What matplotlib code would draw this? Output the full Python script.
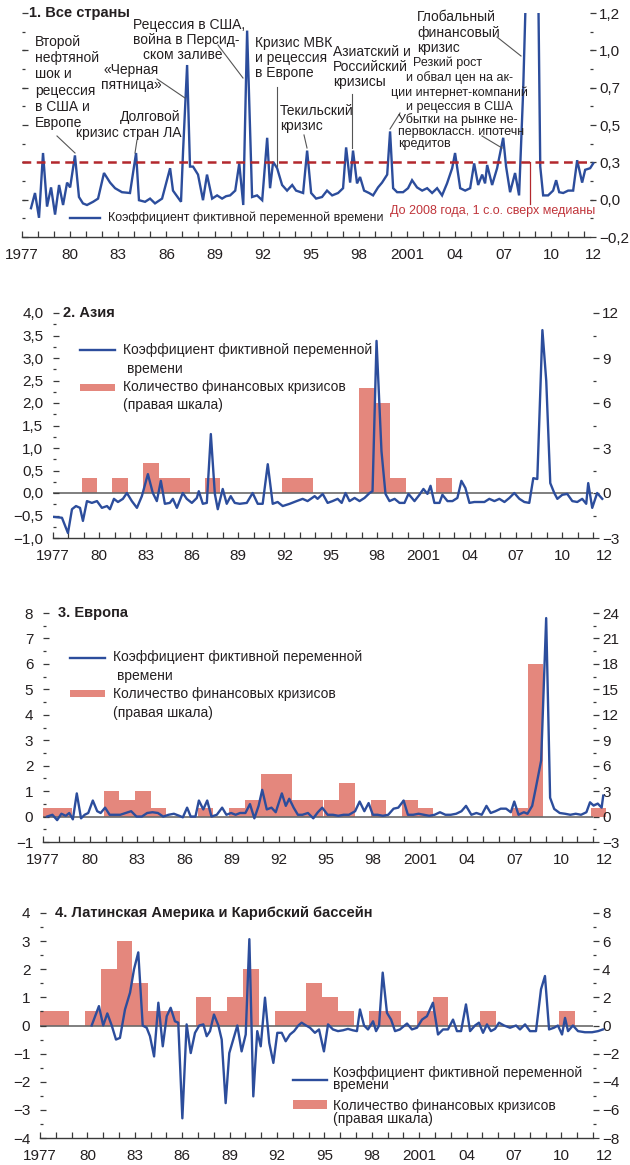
import matplotlib.pyplot as plt
import matplotlib.transforms as mtransforms
from matplotlib.lines import Line2D
from matplotlib.patches import Rectangle
import numpy as np

plt.rcParams['font.family'] = ['Liberation Sans', 'DejaVu Sans']

# ---------------- data ----------------
year_ticks = [1977, 1980, 1983, 1986, 1989, 1992, 1995, 1998, 2001, 2004, 2007, 2010]
year_labels = ['1977', '80', '83', '86', '89', '92', '95', '98', '2001', '04', '07', '10']

# 1. All countries: time dummy coefficient
all_years = [1977.56, 1977.81, 1978.06, 1978.31, 1978.56, 1978.81, 1979.06, 1979.31, 1979.56, 1979.81,
             1980.0, 1980.3, 1980.55, 1980.8, 1981.05, 1981.43, 1981.74, 1982.11, 1982.49, 1982.8,
             1983.23, 1983.73, 1984.11, 1984.29, 1984.67, 1984.98, 1985.29, 1985.73, 1986.23, 1986.41,
             1986.91, 1987.04, 1987.29, 1987.47, 1987.66, 1987.97, 1988.28, 1988.53, 1988.85, 1989.16,
             1989.47, 1989.72, 1989.97, 1990.29, 1990.54, 1990.79, 1991.03, 1991.34, 1991.65, 1991.97,
             1992.28, 1992.46, 1992.65, 1992.9, 1993.21, 1993.52, 1993.84, 1994.08, 1994.52, 1994.77,
             1995.02, 1995.33, 1995.7, 1996.01, 1996.33, 1996.7, 1997.01, 1997.2, 1997.45, 1997.63,
             1997.88, 1998.07, 1998.32, 1998.63, 1998.88, 1999.19, 1999.44, 1999.76, 1999.94, 2000.13,
             2000.38, 2000.75, 2001.06, 2001.31, 2001.62, 2001.94, 2002.25, 2002.56, 2002.87, 2003.18,
             2003.49, 2003.81, 2003.99, 2004.31, 2004.62, 2004.93, 2005.18, 2005.43, 2005.68, 2005.86,
             2005.99, 2006.3, 2006.61, 2006.99, 2007.17, 2007.42, 2007.73, 2007.98, 2008.23, 2008.48,
             2008.73, 2008.98, 2009.17, 2009.3, 2009.48, 2009.79, 2010.1, 2010.29, 2010.48, 2010.73,
             2011.04, 2011.35, 2011.6, 2011.91, 2012.1, 2012.41, 2012.6]
all_vals = [-0.02, 0.075, -0.08, 0.325, -0.01, 0.11, -0.06, 0.125, 0.0, 0.14,
            0.11, 0.31, 0.05, 0.01, 0.0, 0.02, 0.04, 0.2, 0.14, 0.105,
            0.08, 0.075, 0.325, 0.03, 0.02, 0.04, 0.01, 0.04, 0.23, 0.09,
            0.02, 0.34, 0.875, 0.24, 0.24, 0.19, 0.03, 0.19, 0.04, 0.06,
            0.04, 0.055, 0.06, 0.09, 0.26, 0.0, 1.09, 0.05, 0.06, 0.03,
            0.42, 0.105, 0.27, 0.23, 0.125, 0.09, 0.125, 0.09, 0.075, 0.34,
            0.075, 0.04, 0.05, 0.09, 0.06, 0.075, 0.105, 0.36, 0.14, 0.34,
            0.135, 0.175, 0.09, 0.075, 0.06, 0.11, 0.14, 0.19, 0.46, 0.105,
            0.08, 0.08, 0.105, 0.155, 0.11, 0.09, 0.105, 0.075, 0.105, 0.06,
            0.135, 0.23, 0.325, 0.105, 0.09, 0.105, 0.26, 0.125, 0.19, 0.135,
            0.25, 0.125, 0.23, 0.42, 0.24, 0.08, 0.2, 0.06, 0.7, 1.6,
            2.5, 2.2, 1.4, 0.24, 0.06, 0.06, 0.09, 0.155, 0.08, 0.075,
            0.09, 0.09, 0.28, 0.14, 0.22, 0.23, 0.26]
all_ticks = [-0.2, 0.0333, 0.2667, 0.5, 0.7333, 0.9667, 1.2]
threshold = 0.2667

# 2. Asia
asia_years = [1977.0, 1977.58, 1977.97, 1978.23, 1978.49, 1978.75, 1978.94, 1979.2, 1979.52, 1979.85,
              1980.17, 1980.5, 1980.69, 1980.95, 1981.21, 1981.53, 1981.79, 1982.11, 1982.44, 1982.76,
              1983.15, 1983.47, 1983.73, 1983.99, 1984.25, 1984.57, 1984.77, 1985.03, 1985.41, 1985.67,
              1986.0, 1986.32, 1986.45, 1986.71, 1986.97, 1987.23, 1987.49, 1987.68, 1988.0, 1988.26,
              1988.52, 1988.78, 1989.1, 1989.56, 1989.94, 1990.27, 1990.59, 1990.92, 1991.24, 1991.56,
              1991.89, 1992.34, 1992.79, 1993.18, 1993.5, 1993.96, 1994.15, 1994.48, 1994.8, 1995.12,
              1995.45, 1995.71, 1995.96, 1996.22, 1996.55, 1996.87, 1997.19, 1997.52, 1997.71, 1997.97,
              1998.29, 1998.55, 1998.81, 1999.14, 1999.46, 1999.78, 2000.04, 2000.43, 2000.75, 2001.01,
              2001.27, 2001.47, 2001.72, 2002.05, 2002.24, 2002.57, 2002.89, 2003.21, 2003.47, 2003.73,
              2003.99, 2004.31, 2004.64, 2004.96, 2005.28, 2005.61, 2005.93, 2006.26, 2006.58, 2006.9,
              2007.23, 2007.55, 2007.87, 2008.13, 2008.39, 2008.72, 2008.97, 2009.23, 2009.49, 2009.69,
              2010.01, 2010.33, 2010.66, 2010.98, 2011.3, 2011.56, 2011.69, 2011.95, 2012.27, 2012.6]
asia_vals = [-0.53, -0.55, -0.89, -0.36, -0.29, -0.33, -0.62, -0.18, -0.22, -0.18,
             -0.33, -0.29, -0.36, -0.13, -0.2, -0.13, 0.0, -0.18, -0.33, -0.07,
             0.42, 0.0, -0.18, 0.27, -0.24, -0.22, -0.13, -0.33, 0.0, -0.13,
             -0.22, -0.11, 0.04, -0.24, -0.22, 1.31, -0.02, -0.36, 0.09, -0.24,
             -0.07, -0.22, -0.24, -0.22, 0.0, -0.24, -0.24, 0.64, -0.24, -0.2,
             -0.29, -0.24, -0.18, -0.13, -0.18, -0.07, -0.13, -0.02, -0.22, -0.18,
             -0.13, -0.22, 0.0, -0.18, -0.11, -0.18, -0.11, 0.0, 0.04, 3.38,
             0.93, -0.02, -0.18, -0.13, -0.22, -0.22, -0.02, -0.18, -0.04, 0.09,
             -0.02, 0.16, -0.22, -0.22, -0.04, -0.18, -0.18, -0.11, 0.27, 0.11,
             -0.22, -0.2, -0.2, -0.2, -0.13, -0.18, -0.13, -0.2, -0.11, 0.0,
             -0.13, -0.2, -0.22, 0.33, 0.31, 3.62, 2.49, 0.22, 0.0, -0.13,
             -0.04, -0.02, -0.18, -0.2, -0.13, -0.24, 0.22, -0.33, 0.0, -0.13]
asia_bar_years = [1979, 1981, 1983, 1984, 1985, 1987, 1992, 1993, 1997, 1998, 1999, 2002]
asia_bar_counts = [1, 1, 2, 1, 1, 1, 1, 1, 7, 6, 1, 1]

# 3. Europe
eu_years = [1977.26, 1977.6, 1977.9, 1978.17, 1978.45, 1978.67, 1978.9, 1979.15, 1979.42, 1979.65,
            1979.88, 1980.17, 1980.45, 1980.67, 1980.95, 1981.24, 1981.58, 1981.92, 1982.26, 1982.61,
            1982.95, 1983.29, 1983.63, 1983.97, 1984.31, 1984.65, 1984.99, 1985.33, 1985.67, 1985.9,
            1986.17, 1986.4, 1986.7, 1986.92, 1987.2, 1987.45, 1987.72, 1988.06, 1988.4, 1988.67,
            1988.97, 1989.26, 1989.54, 1989.88, 1990.17, 1990.45, 1990.72, 1990.95, 1991.24, 1991.54,
            1991.81, 1992.2, 1992.45, 1992.67, 1992.95, 1993.22, 1993.51, 1993.86, 1994.2, 1994.49,
            1994.77, 1995.11, 1995.45, 1995.79, 1996.13, 1996.47, 1996.86, 1997.15, 1997.45, 1997.72,
            1997.99, 1998.29, 1998.63, 1998.97, 1999.31, 1999.61, 1999.95, 2000.22, 2000.56, 2000.9,
            2001.24, 2001.58, 2001.92, 2002.26, 2002.61, 2002.95, 2003.29, 2003.63, 2003.92, 2004.26,
            2004.58, 2004.92, 2005.22, 2005.49, 2005.79, 2006.13, 2006.47, 2006.77, 2006.99, 2007.26,
            2007.6, 2007.83, 2008.13, 2008.36, 2008.7, 2009.02, 2009.27, 2009.53, 2009.88, 2010.22,
            2010.56, 2010.9, 2011.24, 2011.58, 2011.81, 2012.04, 2012.3, 2012.55, 2012.65]
eu_vals = [0.0, 0.07, -0.14, 0.11, 0.03, 0.14, -0.11, 0.91, -0.07, 0.07,
           0.14, 0.63, 0.21, 0.14, 0.35, 0.07, 0.07, 0.07, 0.14, 0.21,
           0.0, 0.0, 0.14, 0.17, 0.14, 0.0, 0.07, 0.11, 0.03, -0.03,
           0.35, 0.0, 0.0, 0.63, 0.28, 0.63, 0.0, 0.07, 0.35, 0.07,
           0.14, 0.07, 0.14, 0.14, 0.49, -0.07, 0.42, 1.05, 0.28, 0.35,
           0.17, 0.91, 0.42, 0.7, 0.35, 0.07, 0.07, 0.14, -0.07, 0.17,
           0.35, 0.07, 0.07, 0.03, 0.07, 0.07, 0.21, 0.59, 0.21, 0.53,
           0.07, 0.07, 0.03, 0.07, 0.31, 0.35, 0.63, 0.07, 0.07, 0.11,
           0.07, 0.03, 0.07, 0.17, 0.07, 0.07, 0.11, 0.21, 0.42, 0.07,
           0.14, 0.07, 0.42, 0.14, 0.21, 0.31, 0.31, 0.17, 0.59, 0.07,
           0.17, 0.11, 0.42, 1.12, 2.2, 7.8, 0.74, 0.3, 0.14, 0.11,
           0.07, 0.11, 0.07, 0.17, 0.56, 0.43, 0.51, 0.35, 0.82]
eu_bar_years = [1977, 1978, 1981, 1982, 1983, 1984, 1987, 1989, 1990, 1991, 1992, 1993, 1994,
                1995, 1996, 1998, 2000, 2001, 2007, 2008, 2012]
eu_bar_counts = [1, 1, 3, 2, 3, 1, 1, 1, 2, 5, 5, 2, 2, 2, 4, 2, 2, 1, 1, 18, 1]

# 4. Latin America and the Caribbean
la_years = [1980.27, 1980.73, 1981.0, 1981.26, 1981.54, 1981.81, 1982.06, 1982.38, 1982.7, 1982.95,
            1983.22, 1983.5, 1983.75, 1983.96, 1984.22, 1984.49, 1984.77, 1985.02, 1985.27, 1985.54,
            1985.75, 1986.01, 1986.28, 1986.54, 1986.81, 1987.08, 1987.34, 1987.55, 1987.76, 1988.01,
            1988.29, 1988.5, 1988.75, 1988.98, 1989.23, 1989.49, 1989.76, 1990.02, 1990.25, 1990.5,
            1990.75, 1990.97, 1991.24, 1991.51, 1991.77, 1992.02, 1992.3, 1992.55, 1992.82, 1993.08,
            1993.35, 1993.56, 1993.84, 1994.09, 1994.4, 1994.66, 1994.97, 1995.23, 1995.54, 1995.86,
            1996.18, 1996.49, 1996.8, 1997.06, 1997.25, 1997.51, 1997.76, 1998.08, 1998.27, 1998.46,
            1998.69, 1998.96, 1999.22, 1999.47, 1999.78, 2000.23, 2000.54, 2000.86, 2001.18, 2001.49,
            2001.87, 2002.19, 2002.51, 2002.82, 2003.14, 2003.39, 2003.65, 2003.96, 2004.22, 2004.53,
            2004.78, 2005.04, 2005.29, 2005.54, 2005.8, 2006.05, 2006.37, 2006.75, 2007.13, 2007.38,
            2007.7, 2008.01, 2008.39, 2008.71, 2008.96, 2009.22, 2009.53, 2009.78, 2010.04, 2010.23,
            2010.42, 2010.73, 2011.05, 2011.49, 2011.94, 2012.32, 2012.63]
la_vals = [0.0, 0.69, 0.0, 0.43, 0.0, -0.5, -0.44, 0.57, 1.17, 2.0,
           2.6, 0.0, -0.08, -0.38, -1.1, 0.81, -0.74, 0.33, 0.63, 0.15,
           0.1, -3.3, 0.04, -0.98, -0.26, 0.0, 0.04, -0.38, -0.2, 0.39,
           0.0, -0.5, -2.76, -0.98, -0.5, 0.0, -0.92, -0.32, 3.07, -2.52,
           -0.2, -0.74, 0.99, -0.62, -1.33, -0.26, -0.26, -0.56, -0.32, -0.2,
           0.0, 0.1, 0.0, -0.08, -0.26, -0.14, -0.92, 0.04, -0.14, -0.2,
           -0.17, -0.12, -0.17, -0.2, 0.57, 0.0, -0.14, 0.15, -0.2, 0.0,
           1.88, 0.45, 0.21, -0.2, -0.14, 0.07, -0.14, -0.08, 0.21, 0.33,
           0.81, -0.32, -0.14, -0.14, 0.21, -0.2, -0.2, 0.75, -0.2, 0.0,
           0.1, -0.26, 0.04, -0.2, -0.12, 0.1, 0.0, -0.08, 0.0, -0.14,
           0.04, -0.2, -0.2, 1.29, 1.76, -0.14, -0.08, 0.0, -0.32, 0.27,
           -0.2, 0.0, -0.2, -0.24, -0.24, -0.2, -0.14]
la_bar_years = [1977, 1978, 1980, 1981, 1982, 1983, 1984, 1985, 1987, 1988, 1989, 1990, 1992,
                1993, 1994, 1995, 1996, 1998, 1999, 2001, 2002, 2005, 2010]
la_bar_counts = [1, 1, 1, 4, 6, 3, 1, 1, 2, 1, 2, 4, 1, 1, 3, 2, 1, 1, 1, 1, 2, 1, 1]

# ---------------- style ----------------
W, H = 630, 1165
BLUE = '#2c4d9c'
BAR = '#e4877d'
RED = '#b3282d'
RED_TXT = '#c0343a'
TXT = '#231f20'
AXC = '#3a3a3a'
ZERO = '#6a6a6a'
LEAD = '#555555'
LEG1 = 'Коэффициент фиктивной переменной'
LEG2 = 'Количество финансовых кризисов'
TICK_FS = 11
TITLE_FS = 10.5
LEG_FS = 10
ANN_FS = 10
SMALL_FS = 9

fig = plt.figure(figsize=(W / 100, H / 100), dpi=100)
PX = mtransforms.Affine2D().scale(0.01, -0.01).translate(0, H / 100) + fig.dpi_scale_trans


def add_axes_px(left, top, right, bottom):
    return fig.add_axes([left / W, 1 - bottom / H, (right - left) / W, (bottom - top) / H])


def txt(x, y, lines, dy=15, ha='left', size=ANN_FS, color=TXT, weight='normal'):
    for i, s in enumerate(lines):
        fig.text(x, y + i * dy, s, transform=PX, ha=ha, va='center',
                 fontsize=size, color=color, fontweight=weight)


def seg(x0, y0, x1, y1, color=LEAD, lw=0.8):
    fig.add_artist(Line2D([x0, x1], [y0, y1], transform=PX, color=color, lw=lw))


def fmt(v, dec):
    return f'{v:.{dec}f}'.replace('.', ',').replace('-', '\u2212')


def style(ax, ax2, xmax, end_x, left_major, left_minor, left_labels, right_major, right_minor):
    ax.set_xlim(1977, xmax)
    for a in (ax, ax2):
        for s in ('top', 'left', 'right'):
            a.spines[s].set_visible(False)
    ax2.spines['bottom'].set_visible(False)
    ax.spines['bottom'].set_color(AXC)
    ax.spines['bottom'].set_linewidth(1.0)
    ax.set_xticks(year_ticks)
    ax.set_xticklabels(year_labels)
    ax.set_xticks(range(1977, 2013), minor=True)
    ax.tick_params(axis='x', which='both', direction='in', length=4, width=0.9,
                   color=AXC, labelsize=TICK_FS, labelcolor=TXT, pad=8)
    ax.annotate('12', xy=(end_x, 0), xycoords=('data', 'axes fraction'), xytext=(0, -8),
                textcoords='offset points', ha='center', va='top', fontsize=TICK_FS,
                color=TXT, annotation_clip=False)
    ax.set_yticks(left_major)
    ax.set_yticklabels(left_labels)
    ax.set_yticks(left_minor, minor=True)
    ax.tick_params(axis='y', which='major', direction='in', length=4.5, width=0.9,
                   color=AXC, labelsize=TICK_FS, labelcolor=TXT, pad=7)
    ax.tick_params(axis='y', which='minor', direction='in', length=2, width=0.9, color=AXC)
    ax2.set_yticks(right_major)
    ax2.set_yticklabels([fmt(v, 0) for v in right_major])
    ax2.set_yticks(right_minor, minor=True)
    ax2.tick_params(axis='y', which='major', direction='out', length=4.5, width=0.9,
                    color=AXC, labelsize=TICK_FS, labelcolor=TXT, pad=2)
    ax2.tick_params(axis='y', which='minor', direction='out', length=2, width=0.9, color=AXC)
    ax.set_zorder(ax2.get_zorder() + 1)
    ax.patch.set_visible(False)


def extended_clip(ax):
    return Rectangle((0, 0), 1.04, 1, transform=ax.transAxes)


# ---------------- panel 1 ----------------
ax = add_axes_px(22, 13, 590, 237)
ax2 = ax.twinx()
ax.set_ylim(-0.2, 1.2)
ax2.set_ylim(-0.2, 1.2)
mid1 = list(np.linspace(-0.2, 1.2, 13))
style(ax, ax2, 2012.4, 2012.6, all_ticks, mid1, [''] * 7, all_ticks, mid1)
ax2.set_yticklabels([fmt(v, 1) for v in all_ticks])
ln, = ax.plot(all_years, all_vals, color=BLUE, lw=1.7, solid_joinstyle='miter')
ln.set_clip_path(extended_clip(ax))
ax.axhline(threshold, color=RED, lw=1.8, dashes=(3.5, 2.2))

txt(29, 13, ['1. Все страны'], size=TITLE_FS, weight='bold')
txt(35, 42, ['Второй', 'нефтяной', 'шок и', 'рецессия', 'в США и', 'Европе'], dy=16.2)
txt(133, 25, ['Рецессия в США,', 'война в Персид-'], dy=15)
txt(143, 55, ['ском заливе'])
txt(131, 70, ['«Черная', 'пятница»'], ha='center')
txt(181, 117, ['Долговой', 'кризис стран ЛА'], ha='right', dy=16)
txt(255, 43, ['Кризис МВК', 'и рецессия', 'в Европе'])
txt(280, 111, ['Текильский', 'кризис'])
txt(333, 52, ['Азиатский и', 'Российский', 'кризисы'])
txt(417, 17, ['Глобальный', 'финансовый', 'кризис'], dy=15.5)
txt(413, 63, ['Резкий рост'], size=SMALL_FS)
txt(459, 78, ['и обвал цен на ак-', 'ции интернет-компаний', 'и рецессия в США'],
    ha='center', dy=14.5, size=SMALL_FS)
txt(398, 120, ['Убытки на рынке не-', 'первоклассн. ипотечн', 'кредитов'], dy=12, size=SMALL_FS)
txt(595, 211, ['До 2008 года, 1 с.о. сверх медианы'], ha='right', color=RED_TXT, size=SMALL_FS)
txt(108, 218, [LEG1 + ' времени'], size=SMALL_FS)
seg(70, 218, 100, 218, color=BLUE, lw=1.7)

seg(57, 136, 75, 153)
seg(137, 140, 135, 153)
seg(157, 79, 185, 98)
seg(218, 45, 243, 78)
seg(277, 87, 277, 166)
seg(304, 135, 307, 148)
seg(352, 94, 352, 148)
seg(497, 37, 521, 56)
seg(400, 113, 390, 129)
seg(482, 136, 502, 148)
seg(530, 162, 530, 204, color=RED, lw=0.9)


# ---------------- panels 2-4 ----------------
def bar_panel(box, ylim, rlim, years, vals, bar_years, bar_counts,
              left_major, left_minor, ldec, right_major, right_minor, title, title_xy):
    ax = add_axes_px(*box)
    ax2 = ax.twinx()
    ax.set_ylim(*ylim)
    ax2.set_ylim(*rlim)
    style(ax, ax2, 2012, 2012.75, left_major, left_minor,
          [fmt(v, ldec) for v in left_major], right_major, right_minor)
    bars = ax2.bar(np.array(bar_years) - 0.15, bar_counts, width=1.0, align='edge',
                   color=BAR, lw=0)
    for b in bars:
        b.set_clip_path(extended_clip(ax2))
    ax.axhline(0, color=ZERO, lw=1.2, zorder=1)
    ln, = ax.plot(years, vals, color=BLUE, lw=1.7, zorder=3)
    ln.set_clip_path(extended_clip(ax))
    txt(title_xy[0], title_xy[1], [title], size=TITLE_FS, weight='bold')
    return ax


bar_panel((53, 313, 593, 538), (-1, 4), (-3, 12), asia_years, asia_vals,
          asia_bar_years, asia_bar_counts,
          list(np.arange(-1, 4.01, 0.5)), list(np.arange(-1, 4.01, 0.25)), 1,
          [-3, 0, 3, 6, 9, 12], list(np.arange(-3, 12.1, 1.5)), '2. Азия', (63, 313))
seg(80, 350, 115, 350, color=BLUE, lw=1.7)
txt(123, 350, [LEG1], size=LEG_FS)
txt(127, 369, ['времени'], size=LEG_FS)
fig.add_artist(Rectangle((80, 384), 35, 7, transform=PX, color=BAR, lw=0))
txt(123, 387, [LEG2, '(правая шкала)'], dy=18.5, size=LEG_FS)

bar_panel((43, 613, 593, 842), (-1, 8), (-3, 24), eu_years, eu_vals,
          eu_bar_years, eu_bar_counts,
          list(range(-1, 9)), list(np.arange(-1, 8.01, 0.5)), 0,
          list(range(-3, 25, 3)), list(np.arange(-3, 24.1, 1.5)), '3. Европа', (58, 613))
seg(70, 658, 105, 658, color=BLUE, lw=1.7)
txt(113, 657, [LEG1], size=LEG_FS)
txt(117, 676, ['времени'], size=LEG_FS)
fig.add_artist(Rectangle((70, 690), 35, 7, transform=PX, color=BAR, lw=0))
txt(113, 694, [LEG2, '(правая шкала)'], dy=19, size=LEG_FS)

bar_panel((40, 913, 593, 1138), (-4, 4), (-8, 8), la_years, la_vals,
          la_bar_years, la_bar_counts,
          list(range(-4, 5)), list(np.arange(-4, 4.01, 0.5)), 0,
          list(range(-8, 9, 2)), list(range(-8, 9)),
          '4. Латинская Америка и Карибский бассейн', (55, 913))
seg(293, 1080, 327, 1080, color=BLUE, lw=1.7)
txt(333, 1073, [LEG1, 'времени'], dy=12.5, size=LEG_FS)
fig.add_artist(Rectangle((293, 1100), 34, 9, transform=PX, color=BAR, lw=0))
txt(333, 1106, [LEG2, '(правая шкала)'], dy=13, size=LEG_FS)

fig.savefig('out.png', dpi=100)
